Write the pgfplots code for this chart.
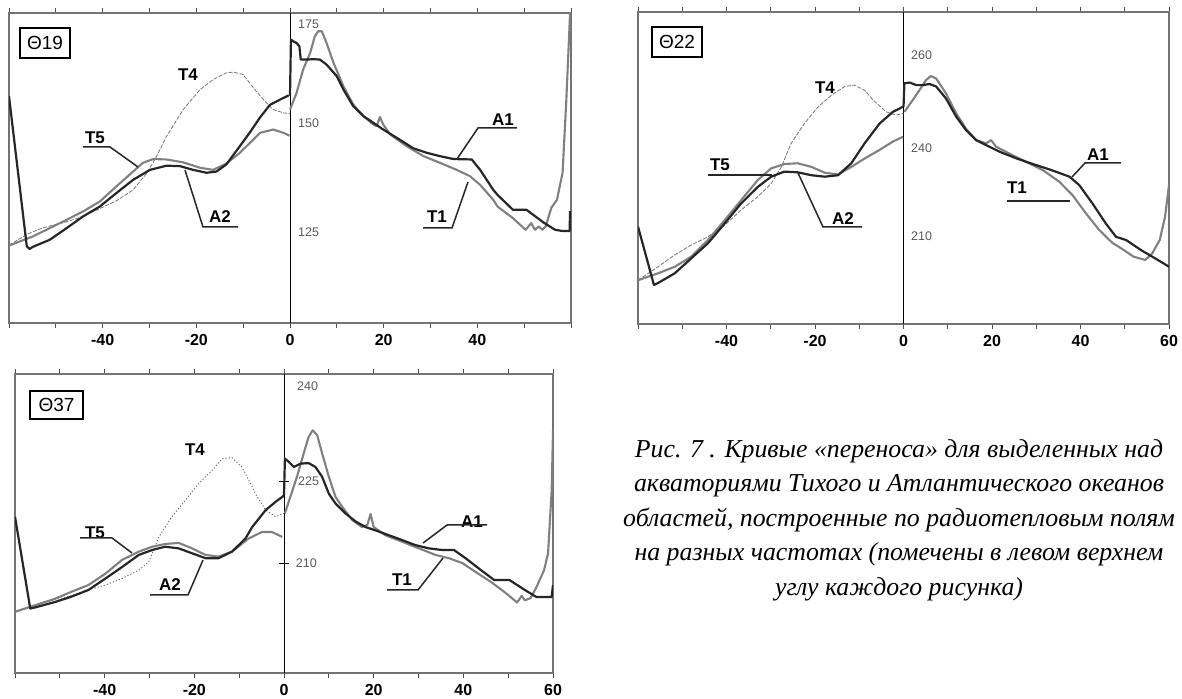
\documentclass[border=0pt]{standalone}
\usepackage{fontspec}
\setmainfont{Liberation Serif}
\setsansfont{Liberation Sans}
\usepackage{pgfplots}
\pgfplotsset{compat=1.18}
\pgfplotsset{
  panel/.style={scale only axis, anchor=south west, xmin=-60, xmax=60,
    axis line style={draw=black!55, line width=1.2pt},
    xtick={-60,-50,...,60},
    tick align=outside, major tick length=5pt,
    xtick style={draw=black!70, line width=0.8pt},
    ytick=\empty,
    xticklabel style={font=\sffamily\bfseries\fontsize{16}{16}\selectfont, yshift=-3pt},
  },
}
\tikzset{
  blk/.style={draw=black!85, line width=2.2pt, line join=round},
  gry/.style={draw=black!50, line width=2.1pt, line join=round},
  tfour/.style={draw=black!55, line width=0.8pt, dash pattern=on 4pt off 1.5pt},
  tfourdot/.style={draw=black!60, line width=0.9pt, dash pattern=on 1.2pt off 2pt},
  zeroline/.style={draw=black, line width=0.8pt},
  ylab/.style={anchor=west, font=\sffamily\fontsize{12.5}{12.5}\selectfont, text=black!65, inner sep=0pt},
  lab/.style={font=\sffamily\bfseries\fontsize{17}{17}\selectfont, inner sep=0pt},
  lead/.style={draw=black!85, line width=1.5pt},
  thbox/.style={draw=black, line width=2pt, inner sep=0pt, font=\sffamily\fontsize{19}{19}\selectfont},
}
\begin{document}
\begin{tikzpicture}[x=1pt,y=1pt]
\path[use as bounding box] (0,0) rectangle (1182,698);

% ---------------- Panel 1 : 19 GHz ----------------
\begin{axis}[panel, at={(9pt,375pt)}, width=562pt, height=310pt,
  ymin=103.1, ymax=177.6,
  xticklabels={,,-40,,-20,,0,,20,,40,,}]
\draw[zeroline] (axis cs:0,103.1) -- (axis cs:0,177.6);
\addplot[tfour] coordinates {(-60,121.8) (-56,124.5) (-52.7,126.0) (-47.7,127.4) (-44,128.8) (-40.6,130.6) (-37,132.5) (-33.5,135.1) (-30.6,139.1) (-28.5,143.1) (-26.4,147.9) (-22.8,154.4) (-19.2,159.2) (-16.4,161.6) (-13.6,163.2) (-12.1,163.4) (-10,162.8) (-7.8,159.6) (-5.7,156.8) (-3.6,154.4) (-1.4,153.6) (0,153.4)};
\addplot[gry] coordinates {(-60,121.7) (-54.9,123.9) (-51.3,125.9) (-47.7,127.9) (-44.2,129.9) (-40.6,132.3) (-37.1,135.9) (-33.5,139.5) (-31.4,141.6) (-29.2,142.5) (-26.4,142.4) (-22.8,141.7) (-19.2,140.4) (-16.4,139.9) (-13.6,141.4) (-10.7,144.0) (-6.4,148.8) (-3.6,149.6) (-1.4,148.8) (-0.1,148.1)};
\addplot[blk] coordinates {(-60,157.6) (-56.2,121.5) (-55.6,120.9) (-54.9,121.4) (-51.3,123.1) (-47.7,125.9) (-44.2,128.7) (-40.6,131.1) (-37.1,134.3) (-33.5,137.5) (-29.9,139.9) (-26.4,140.9) (-23.5,140.8) (-20.7,139.9) (-17.8,139.2) (-15.7,139.5) (-13.6,141.2) (-10.7,145.6) (-8.5,149) (-6.4,152.5) (-4.3,155.5) (-2.1,156.8) (-0.3,157.8)};
\addplot[gry] coordinates {(0,154.4) (1.4,158.4) (2.8,164.0) (4.3,168.0) (5.3,172.0) (6.0,173.2) (6.8,173.2) (7.8,170.4) (9.3,165.6) (11.4,160.0) (13.5,155.6) (15.7,152.8) (17.8,150.8) (18.5,150.4) (19.2,152.6) (19.9,150.8) (21.4,148.4) (24.9,145.6) (28.5,143.2) (32.0,141.6) (35.6,139.9) (38.4,138.4) (40.6,136.3) (43.4,132.7) (44.3,131.1) (47.6,128.3) (50.3,125.5) (51.5,127.1) (52.3,125.5) (53.1,126.3) (53.9,125.5) (54.6,126.3) (55.8,130.8) (57.0,132.7) (58.2,139.2) (59.0,156.7) (59.8,177.6)};
\addplot[blk] coordinates {(0,157.7) (0.2,171.2) (0.7,170.8) (1.4,170.4) (2.0,169.6) (2.3,166.4) (3.6,166.4) (5.0,166.5) (6.4,166.4) (7.8,165.2) (10.0,162.4) (11.4,159.2) (13.5,155.2) (15.7,152.8) (17.8,151.2) (19.9,149.6) (22.8,147.6) (26.3,145.1) (29.2,144.0) (32.0,143.2) (34.9,142.5) (38.8,142.4) (40.6,139.9) (43.4,135.1) (44.3,133.9) (47.6,130.3) (50.5,130.3) (54.2,127.2) (56.6,125.5) (58.2,125.2) (59.7,125.2) (59.8,130)};
\node[ylab] at (axis cs:1.7,175) {175};
\node[ylab] at (axis cs:1.7,151.2) {150};
\node[ylab] at (axis cs:1.7,125) {125};
\end{axis}
\node[thbox, minimum width=50pt, minimum height=30pt] at (45,655) {Θ19};
\node[lab] at (188,623) {T4};
\node[lab] at (95,560) {T5};
\draw[lead] (83,551) -- (110,551) -- (138,531);
\node[lab] at (220,481) {A2};
\draw[lead] (238,471) -- (203,471) -- (185,528);
\node[lab] at (503,578) {A1};
\draw[lead] (517,570) -- (478,570) -- (457,539);
\node[lab] at (437,481) {T1};
\draw[lead] (423,470) -- (452,470) -- (468,516);

% ---------------- Panel 2 : 22 GHz ----------------
\begin{axis}[panel, at={(638pt,374pt)}, width=531pt, height=312pt,
  ymin=185.7, ymax=271.9,
  xticklabels={,,-40,,-20,,0,,20,,40,,60}]
\draw[zeroline] (axis cs:0,185.7) -- (axis cs:0,271.9);
\addplot[tfour] coordinates {(-60,197.8) (-55.5,201.5) (-51.7,204.8) (-48.0,207.5) (-44.2,209.8) (-40.4,213.0) (-36.7,217.2) (-32.9,220.9) (-29.9,224.5) (-27.6,229.1) (-25.4,235.6) (-22.4,241.1) (-19.3,245.7) (-16.3,248.9) (-13.3,251.3) (-11.1,251.7) (-8.8,250.3) (-6.9,247.6) (-3.9,244.3) (-1.65,243.4) (0,243.9)};
\addplot[gry] coordinates {(-60,197.8) (-55.5,199.7) (-51.7,201.5) (-48.0,204.3) (-44.2,208.9) (-40.4,214.4) (-36.7,219.9) (-32.9,225.5) (-29.9,228.7) (-26.9,229.9) (-23.9,230.1) (-20.8,229.1) (-17.8,227.5) (-14.8,227.0) (-11.8,229.1) (-8.8,231.4) (-5.4,233.8) (-2.4,236.1) (-0.15,237.4)};
\addplot[blk] coordinates {(-60,212.6) (-56.4,196.5) (-55.5,197.0) (-51.7,199.7) (-48.0,203.8) (-44.2,208.0) (-40.4,213.5) (-36.7,219.0) (-32.9,223.6) (-29.9,226.4) (-26.9,227.8) (-23.9,227.6) (-20.8,226.8) (-17.8,226.4) (-14.8,226.8) (-11.8,230.1) (-8.8,235.6) (-5.4,241.1) (-2.4,244.3) (-0.15,245.7)};
\addplot[gry] coordinates {(0.2,244.3) (2.1,247.6) (3.6,250.3) (5.1,253.1) (6.2,254.2) (7.4,253.5) (9.6,249.4) (11.9,243.9) (14.1,239.7) (16.4,236.5) (18.7,235.6) (19.8,236.5) (20.9,234.7) (23.9,232.8) (27.7,230.5) (31.5,228.2) (35.2,225.0) (38.2,221.3) (41.2,216.3) (44.2,211.7) (47.3,208.0) (48.7,207.0) (52.0,204.3) (54.6,203.4) (56.2,205.2) (57.9,208.9) (59.1,215.3) (60,224.1)};
\addplot[blk] coordinates {(0,245.7) (0.2,252.2) (1.4,252.4) (2.9,251.7) (4.4,251.7) (5.9,252.0) (7.4,251.3) (9.6,248.0) (11.9,243.0) (14.1,239.3) (16.4,236.5) (18.7,235.1) (21.7,233.3) (25.4,231.5) (29.2,229.9) (33.0,228.4) (37.5,226.4) (39.7,224.1) (42.7,219.0) (45.7,213.5) (48.0,209.8) (50.3,208.9) (53.7,206.1) (56.2,204.3) (58.7,202.5) (60,201.5)};
\node[ylab] at (axis cs:1.7,260) {260};
\node[ylab] at (axis cs:1.7,234.3) {240};
\node[ylab] at (axis cs:1.7,210) {210};
\end{axis}
\node[thbox, minimum width=50pt, minimum height=30pt] at (677,656) {Θ22};
\node[lab] at (825,610) {T4};
\node[lab] at (720,533) {T5};
\draw[lead] (708,523) -- (772,523);
\node[lab] at (843,479) {A2};
\draw[lead] (862,471) -- (823,471) -- (798,525);
\node[lab] at (1098,543) {A1};
\draw[lead] (1121,535) -- (1085,535) -- (1072,521);
\node[lab] at (1017,510) {T1};
\draw[lead] (1007,497) -- (1070,497);

% ---------------- Panel 3 : 37 GHz ----------------
\begin{axis}[panel, at={(15pt,25pt)}, width=538pt, height=299pt,
  ymin=189.9, ymax=244.6,
  xticklabels={,,-40,,-20,,0,,20,,40,,60}]
\draw[zeroline] (axis cs:0,189.9) -- (axis cs:0,244.6);
\draw[zeroline] (axis cs:-1.2,225) -- (axis cs:1.2,225);
\draw[zeroline] (axis cs:-1.2,210) -- (axis cs:1.2,210);
\addplot[tfourdot] coordinates {(-60,201.0) (-54.7,202.6) (-51.0,203.3) (-47.3,204.1) (-43.6,205.1) (-39.8,206.0) (-36.1,207.2) (-32.4,208.7) (-30.2,210.2) (-27.9,214.8) (-25.0,218.5) (-22.0,221.5) (-19.0,224.6) (-16.0,227.0) (-13.8,229.1) (-11.6,229.3) (-9.4,227.6) (-7.1,224.0) (-6.4,222.7) (-4.1,219.7) (-1.9,218.5) (0,219.1)};
\addplot[gry] coordinates {(-60,201.1) (-55.5,202.3) (-51.0,203.5) (-47.3,204.8) (-43.6,206.0) (-39.8,208.1) (-36.1,210.6) (-32.4,212.1) (-29.4,213.0) (-26.5,213.5) (-23.5,213.7) (-20.5,212.7) (-17.5,211.5) (-14.6,211.2) (-11.6,212.1) (-7.9,214.5) (-4.9,215.7) (-2.7,215.7) (-0.4,214.8)};
\addplot[blk] coordinates {(-60,218.5) (-56.6,201.7) (-55.5,201.9) (-51.0,202.9) (-47.3,203.9) (-43.6,205.1) (-39.8,207.2) (-36.1,209.3) (-32.4,211.5) (-29.4,212.4) (-26.5,213.0) (-23.5,212.7) (-20.5,211.8) (-17.5,210.9) (-14.6,210.9) (-11.6,212.1) (-8.6,214.5) (-7.1,216.6) (-4.1,219.7) (-1.9,221.2) (-0.4,222.1) (0,222.4)};
\addplot[gry] coordinates {(0.2,219.1) (1.4,222.1) (2.9,225.8) (4.4,230.1) (5.5,233.1) (6.4,234.3) (7.4,233.4) (8.5,230.1) (10.0,225.8) (11.5,222.1) (13.0,220.3) (15.2,217.9) (17.4,216.6) (18.6,217.0) (19.3,219.0) (20.0,216.6) (22.6,215.1) (26.4,213.9) (30.1,212.7) (33.8,211.5) (36.8,210.9) (39.8,210.0) (42.7,208.4) (46.1,206.6) (49.5,204.5) (52.0,202.8) (53.0,204.0) (53.7,203.2) (55.0,203.6) (56.3,205.6) (58.0,208.7) (58.9,211.8) (59.7,223.3) (60,234.3)};
\addplot[blk] coordinates {(0,222.4) (0.2,229.1) (1.1,228.5) (2.2,227.6) (3.7,228.2) (5.5,228.3) (7.0,227.6) (8.5,225.8) (10.0,222.7) (11.5,220.9) (13.7,219.1) (16.0,217.6) (18.2,216.6) (20.4,216.0) (23.4,215.1) (26.4,214.2) (29.3,213.3) (32.3,212.7) (35.3,212.4) (37.9,212.4) (40.5,210.9) (43.5,209.0) (46.9,206.9) (50.3,206.9) (53.7,205.1) (56.3,203.8) (59.7,203.8) (60,206)};
\node[ylab] at (axis cs:2.9,242.4) {240};
\node[ylab] at (axis cs:3.1,225) {225};
\node[ylab] at (axis cs:2.6,210) {210};
\end{axis}
\node[thbox, minimum width=53pt, minimum height=28pt] at (56.5,293) {Θ37};
\node[lab] at (195,248) {T4};
\node[lab] at (95,165) {T5};
\draw[lead] (80,160) -- (112,160) -- (132,145);
\node[lab] at (170,113) {A2};
\draw[lead] (150,103) -- (188,103) -- (203,138);
\node[lab] at (472,176) {A1};
\draw[lead] (487,173) -- (447,173) -- (423,155);
\node[lab] at (402,118) {T1};
\draw[lead] (387,108) -- (418,108) -- (443,140);

% ---------------- Caption ----------------
\node[align=center, font=\itshape\fontsize{25.8}{34.5}\selectfont, inner sep=0pt] at (899,178)
{Рис. 7 . Кривые «переноса» для выделенных над\\
акваториями Тихого и Атлантического океанов\\
областей, построенные по радиотепловым полям\\
на разных частотах (помечены в левом верхнем\\
углу каждого рисунка)};
\end{tikzpicture}
\end{document}
